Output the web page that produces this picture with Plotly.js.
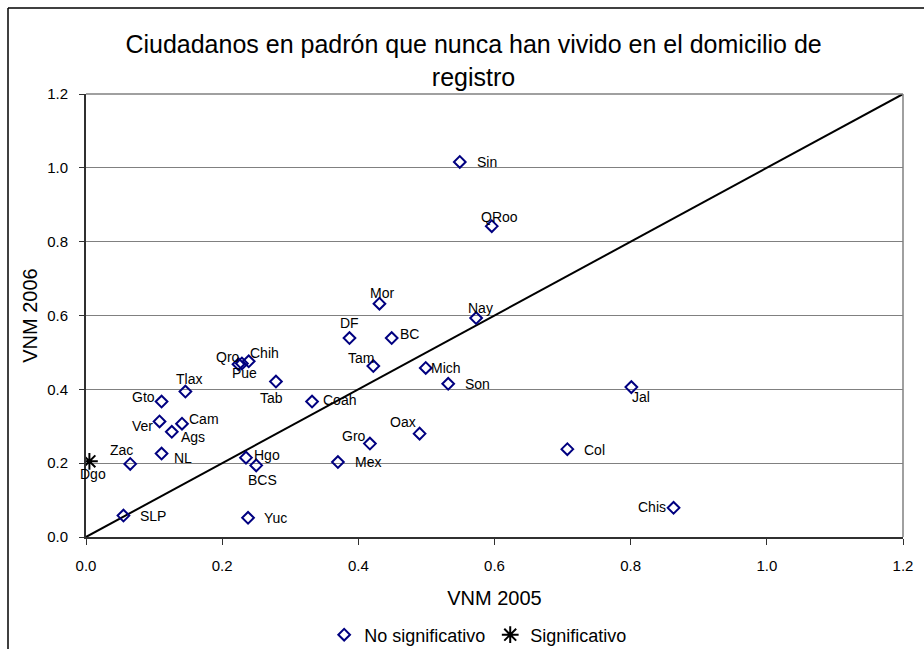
<!DOCTYPE html>
<html>
<head>
<meta charset="utf-8">
<script src="https://cdn.plot.ly/plotly-3.0.1.min.js"></script>
<style>html,body{margin:0;padding:0;background:#fff;}#chart{width:924px;height:649px;}</style>
</head>
<body>
<div id="chart"></div>
<script>
// ---- Data ----
const states = ["Sin","QRoo","Nay","Mich","Son","Mor","DF","BC","Qro","Pue","Chih","Tam","Tab","Coah","Gro","Oax","Mex","Hgo","BCS","Tlax","Gto","Ver","Cam","Ags","NL","Zac","SLP","Yuc","Jal","Col","Chis"];
const vnm2005 = [0.549,0.596,0.573,0.499,0.532,0.431,0.387,0.449,0.224,0.229,0.239,0.422,0.279,0.332,0.417,0.490,0.370,0.235,0.250,0.146,0.111,0.108,0.141,0.126,0.111,0.065,0.055,0.238,0.801,0.707,0.863];
const vnm2006 = [1.016,0.842,0.593,0.458,0.415,0.632,0.539,0.539,0.468,0.470,0.476,0.463,0.421,0.367,0.253,0.280,0.203,0.215,0.194,0.394,0.367,0.313,0.307,0.285,0.226,0.198,0.058,0.052,0.406,0.238,0.079];
const sigStates = ["Dgo"];
const sig2005 = [0.005];
const sig2006 = [0.205];
const refLineX = [0, 1.2];
const refLineY = [0, 1.2];
const tickVals = [0, 0.2, 0.4, 0.6, 0.8, 1.0, 1.2];
const tickText = ["0.0","0.2","0.4","0.6","0.8","1.0","1.2"];

// ---- Label placement (pixel offsets: right, down) ----
const labelOffsets = {
  Sin:[27,0], QRoo:[8,-9], Nay:[4.5,-10], Mich:[20,0], Son:[29,0], Mor:[3,-11], DF:[0,-15], BC:[18,-4],
  Qro:[-11,-7], Pue:[3,10], Chih:[16,-8], Tam:[-12,-8], Tab:[-4,16], Coah:[27,-2], Gro:[-16,-8], Oax:[-17,-12],
  Mex:[30,0], Hgo:[21,-3], BCS:[6.5,15], Tlax:[4,-13], Gto:[-18,-5], Ver:[-17,5], Cam:[22,-5], Ags:[21,5],
  NL:[21,4], Zac:[-8.5,-14], SLP:[30,0], Yuc:[27.5,0], Jal:[10,10], Col:[27,1], Chis:[-21.5,-1], Dgo:[4,13]
};

const FONT = '"Liberation Sans", Arial, sans-serif';

const traces = [
  {
    x: refLineX, y: refLineY, mode: 'lines', type: 'scatter',
    line: {color: '#000000', width: 2}, showlegend: false, hoverinfo: 'skip'
  },
  {
    x: vnm2005, y: vnm2006, text: states, mode: 'markers', type: 'scatter',
    name: 'No significativo',
    marker: {symbol: 'diamond-open', size: 9, color: '#000080', line: {color: '#000080', width: 2}}
  },
  {
    x: sig2005, y: sig2006, text: sigStates, mode: 'markers', type: 'scatter',
    name: 'Significativo',
    marker: {symbol: 'asterisk-open', size: 14, color: '#000000', line: {color: '#000000', width: 2}}
  }
];

const annotations = [];
function addLabels(names, xs, ys) {
  names.forEach((n, i) => {
    const off = labelOffsets[n] || [0, 0];
    annotations.push({
      x: xs[i], y: ys[i], xref: 'x', yref: 'y', text: n, showarrow: false,
      xanchor: 'center', yanchor: 'middle', xshift: off[0], yshift: -off[1],
      font: {family: FONT, size: 14, color: '#000000'}
    });
  });
}
addLabels(states, vnm2005, vnm2006);
addLabels(sigStates, sig2005, sig2006);

const layout = {
  width: 924, height: 649,
  margin: {l: 86, r: 21, t: 94, b: 112, autoexpand: false},
  paper_bgcolor: '#ffffff', plot_bgcolor: '#ffffff',
  font: {family: FONT, color: '#000000'},
  title: {
    text: 'Ciudadanos en padrón que nunca han vivido en el domicilio de<br>registro',
    font: {family: FONT, size: 25, color: '#000000'},
    xref: 'container', x: 0.5125, xanchor: 'center',
    yref: 'container', y: 1 - 53/649, yanchor: 'top'
  },
  xaxis: {
    range: [0, 1.2], tickvals: tickVals, ticktext: tickText, automargin: false,
    showgrid: false, zeroline: false,
    showline: true, linecolor: '#303030', linewidth: 2,
    ticks: 'outside', ticklen: 6, tickcolor: '#303030', tickwidth: 1,
    ticklabelstandoff: 8,
    tickfont: {family: FONT, size: 15, color: '#000000'},
    title: {text: 'VNM 2005', font: {family: FONT, size: 20, color: '#000000'}, standoff: 18}
  },
  yaxis: {
    range: [0, 1.2], tickvals: tickVals, ticktext: tickText, automargin: false,
    showgrid: true, gridcolor: '#808080', gridwidth: 1, zeroline: false,
    showline: true, linecolor: '#303030', linewidth: 2,
    ticks: 'outside', ticklen: 5, tickcolor: '#303030', tickwidth: 1,
    ticklabelstandoff: 8,
    tickfont: {family: FONT, size: 15, color: '#000000'},
    title: {text: 'VNM 2006', font: {family: FONT, size: 20, color: '#000000'}, standoff: 4}
  },
  showlegend: true,
  legend: {
    orientation: 'h', xref: 'paper', yref: 'container', x: 0.48, xanchor: 'center', y: 1 - 635/649, yanchor: 'middle',
    font: {family: FONT, size: 18, color: '#000000'}, bgcolor: 'rgba(0,0,0,0)', itemwidth: 30
  },
  annotations: annotations,
  shapes: [
    {type: 'line', xref: 'paper', yref: 'paper', x0: 1, x1: 1, y0: 0, y1: 1, line: {color: '#808080', width: 1.5}},
    {type: 'line', xref: 'paper', yref: 'paper', x0: 0, x1: 1, y0: 1, y1: 1, line: {color: '#808080', width: 1.5}},
    {type: 'line', xref: 'paper', yref: 'paper', x0: -78/817, x1: -78/817, y0: 529/443, y1: -0.3, line: {color: '#000000', width: 1.5}},
    {type: 'line', xref: 'paper', yref: 'paper', x0: -78/817, x1: 1.03, y0: 529/443, y1: 529/443, line: {color: '#000000', width: 1.5}}
  ]
};

Plotly.newPlot('chart', traces, layout, {displayModeBar: false, staticPlot: true});
</script>
</body>
</html>
